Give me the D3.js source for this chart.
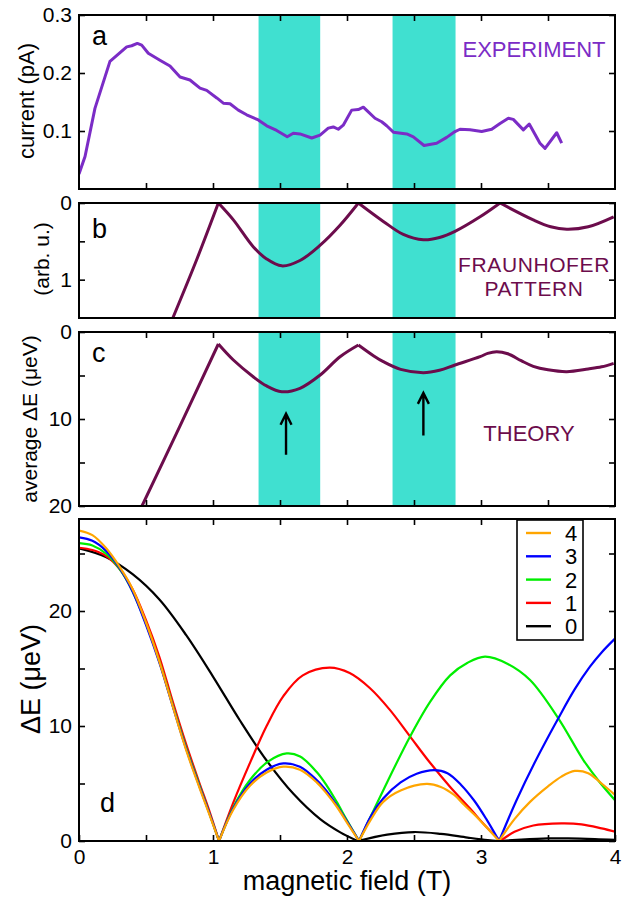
<!DOCTYPE html>
<html><head><meta charset="utf-8">
<script src="https://cdn.jsdelivr.net/npm/d3@7"></script>
<style>body{margin:0;background:#fff}svg{display:block;font-family:"Liberation Sans",Arial,sans-serif}</style>
</head><body>
<script>
// ---------- data ----------
const bands = [[1.34, 1.80], [2.34, 2.81]];

// panel a: experiment
const expField = [0.000,0.045,0.119,0.231,0.356,0.393,0.435,0.468,0.517,0.604,0.679,0.754,0.828,0.903,0.953,1.028,1.077,1.127,1.189,1.251,1.338,1.401,1.475,1.554,1.599,1.649,1.737,1.799,1.860,1.898,1.935,1.972,2.035,2.084,2.122,2.159,2.209,2.259,2.296,2.346,2.446,2.495,2.575,2.669,2.744,2.806,2.843,2.918,3.005,3.080,3.142,3.204,3.241,3.316,3.360,3.440,3.478,3.565,3.602];
const expCurrent = [0.026,0.056,0.139,0.220,0.245,0.247,0.251,0.248,0.234,0.222,0.212,0.193,0.188,0.174,0.170,0.157,0.148,0.147,0.136,0.128,0.119,0.109,0.101,0.090,0.096,0.095,0.088,0.093,0.105,0.107,0.103,0.110,0.136,0.137,0.141,0.133,0.122,0.116,0.109,0.098,0.095,0.090,0.075,0.079,0.089,0.099,0.103,0.102,0.099,0.103,0.113,0.122,0.120,0.102,0.112,0.079,0.070,0.097,0.079];

// panel b: Fraunhofer pattern (inverted axis)
const fraunField = [0.70,0.878,1.04,1.152,1.30,1.40,1.513,1.649,1.80,1.948,2.085,2.271,2.42,2.57,2.69,2.806,2.993,3.142,3.39,3.52,3.64,3.80,3.99];
const fraunValue = [1.50,0.74,0,0.22,0.57,0.73,0.82,0.75,0.55,0.29,0,0.24,0.41,0.48,0.45,0.37,0.18,0,0.22,0.31,0.342,0.31,0.18];

// panel c: theory average dE
const theoryField = [0.47,0.754,1.04,1.152,1.30,1.40,1.513,1.649,1.80,1.948,2.085,2.20,2.271,2.40,2.57,2.69,2.806,2.993,3.05,3.117,3.20,3.30,3.39,3.50,3.64,3.80,3.90,3.99];
const theoryDE = [20.0,10.8,1.38,3.22,5.14,6.2,6.86,6.47,4.94,2.84,1.49,2.75,3.41,4.3,4.67,4.4,3.79,2.84,2.45,2.26,2.5,3.3,3.95,4.35,4.56,4.25,4.0,3.6];
const theoryCusps = [1.04, 2.085];
const arrowField = [1.545, 2.57];
const arrowFrom = [14.1, 11.9];
const arrowTo = [9.4, 7.0];

// panel d: dE for n = 0..4
const d0Field = [0,0.2,0.4,0.6,0.8,1.0,1.2,1.4,1.6,1.8,1.95,2.08,2.3,2.5,2.7,2.9,3.05,3.13,3.3,3.5,3.65,3.85,4.0];
const d0DE =    [25.45,24.7,23.2,21.0,17.9,14.3,10.5,7.0,4.1,1.9,0.75,0,0.55,0.78,0.62,0.3,0.08,0,0.12,0.22,0.23,0.17,0.09];
const d1Field = [0,0.1,0.2,0.3,0.4,0.5,0.6,0.7,0.8,0.9,0.97,1.045,1.15,1.28,1.4,1.525,1.67,1.87,2.02,2.17,2.32,2.47,2.62,2.77,2.92,3.03,3.145,3.25,3.39,3.6,3.75,3.9,4.0];
const d1DE =    [25.5,25.3,24.8,23.7,21.9,19.2,16.0,12.1,8.4,5.0,2.7,0,3.3,6.9,10.0,12.6,14.4,15.07,14.6,13.3,11.4,9.1,6.8,4.7,2.8,1.35,0,0.8,1.35,1.53,1.45,1.1,0.81];
const d2Field = [0,0.1,0.2,0.3,0.4,0.5,0.6,0.7,0.8,0.9,0.97,1.045,1.15,1.276,1.41,1.55,1.65,1.774,1.85,1.923,2.0,2.09,2.27,2.47,2.62,2.77,2.9,3.03,3.2,3.366,3.577,3.764,3.88,4.0];
const d2DE =    [25.9,25.7,25.0,23.7,21.7,18.9,15.6,11.8,8.1,4.8,2.5,0,2.9,5.3,6.9,7.62,7.35,6.0,4.8,3.4,1.8,0,4.4,9.07,12.1,14.4,15.5,16.03,15.4,14.0,10.67,7.04,5.2,3.55];
const d3Field = [0,0.1,0.2,0.3,0.4,0.5,0.6,0.7,0.8,0.9,0.97,1.045,1.15,1.276,1.4,1.525,1.649,1.774,1.85,1.923,2.0,2.09,2.18,2.27,2.4,2.52,2.65,2.75,2.85,2.95,3.04,3.135,3.266,3.4,3.577,3.7,3.813,3.9,4.0];
const d3DE =    [26.4,26.1,25.25,23.8,21.7,18.8,15.5,11.7,8.0,4.7,2.5,0,2.8,5.0,6.2,6.75,6.46,5.3,4.3,3.1,1.7,0,2.2,3.7,5.1,5.85,6.17,5.9,4.9,3.5,1.9,0,3.56,6.8,10.67,13.2,15.16,16.4,17.6];
const d4Field = [0,0.1,0.2,0.3,0.4,0.5,0.6,0.7,0.8,0.9,0.97,1.045,1.15,1.276,1.4,1.525,1.649,1.774,1.85,1.923,2.0,2.09,2.18,2.27,2.4,2.595,2.7,2.8,2.87,2.95,3.02,3.135,3.25,3.366,3.5,3.6,3.7,3.8,3.9,4.0];
const d4DE =    [27.0,26.6,25.5,23.9,21.9,19.0,15.6,11.7,7.9,4.6,2.4,0,2.7,4.8,5.95,6.46,6.2,5.1,4.1,3.0,1.6,0,1.9,3.4,4.4,4.96,4.7,4.0,3.2,2.3,1.45,0,1.9,3.4,4.75,5.6,6.09,5.9,5.0,4.0];
const seriesNames = ["0","1","2","3","4"];
const seriesColors = ["#000000","#ff0000","#00ee00","#0000ff","#ffa500"];
const legendOrder = ["4","3","2","1","0"];
const xTickLabels = ["0","1","2","3","4"];

// ---------- drawing ----------
const W = 633, H = 901;
const svg = d3.select("body").append("svg").attr("width", W).attr("height", H);
const x = d3.scaleLinear().domain([0, 4]).range([79, 615]);
const X0 = 79, X1 = 615;
const PURPLE = "#7b2cc6", MAROON = "#6c0c4c", TURQ = "#40e0d0";

const yA = d3.scaleLinear().domain([0, 0.3]).range([189, 15]);
const yB = d3.scaleLinear().domain([0, 1.5]).range([203, 318]);
const yC = d3.scaleLinear().domain([0, 20]).range([332, 506]);
const yD = d3.scaleLinear().domain([0, 28]).range([841, 519]);

function clip(id, y) {
  const [b, t] = [d3.max(y.range()), d3.min(y.range())];
  svg.append("clipPath").attr("id", id).append("rect")
    .attr("x", X0).attr("y", t).attr("width", X1 - X0).attr("height", b - t);
  return `url(#${id})`;
}
function shade(y, cp) {
  const [b, t] = [d3.max(y.range()), d3.min(y.range())];
  svg.append("g").attr("clip-path", cp).selectAll("rect").data(bands).join("rect")
    .attr("x", d => x(d[0])).attr("width", d => x(d[1]) - x(d[0]))
    .attr("y", t).attr("height", b - t).attr("fill", TURQ);
}
function splitSegments(pts, isBreak) {
  const segs = []; let cur = [];
  pts.forEach((p, i) => {
    cur.push(p);
    if (isBreak(p) && i > 0 && i < pts.length - 1) { segs.push(cur); cur = [p]; }
  });
  if (cur.length > 1) segs.push(cur);
  return segs;
}
function frameAndAxes(y, opt) {
  const [b, t] = [d3.max(y.range()), d3.min(y.range())];
  const fs = "21px";
  const gl = svg.append("g").attr("transform", `translate(${X0},0)`)
    .call(d3.axisLeft(y).tickValues(opt.yTicks).tickSize(-6).tickPadding(7)
      .tickFormat((d, i) => opt.yLabels[i]));
  const gr = svg.append("g").attr("transform", `translate(${X1},0)`)
    .call(d3.axisRight(y).tickValues(opt.yTicks).tickSize(-6).tickFormat(""));
  const gs = [gl, gr];
  if (opt.xTicks) {
    const minor = [0.5,1,1.5,2,2.5,3,3.5];
    gs.push(svg.append("g").attr("transform", `translate(0,${t})`)
      .call(d3.axisTop(x).tickValues(minor).tickSize(-6).tickFormat("")));
    if (opt.xLabels) {
      gs.push(svg.append("g").attr("transform", `translate(0,${b})`)
        .call(d3.axisBottom(x).tickValues([0,0.5,1,1.5,2,2.5,3,3.5,4]).tickSize(-6).tickPadding(8)
          .tickFormat(d => Number.isInteger(d) ? xTickLabels[d] : "")));
    } else {
      gs.push(svg.append("g").attr("transform", `translate(0,${b})`)
        .call(d3.axisBottom(x).tickValues(minor).tickSize(-6).tickFormat("")));
    }
  }
  gs.forEach(g => {
    g.select(".domain").remove();
    g.selectAll(".tick line").attr("stroke", "#000").attr("stroke-width", 1.6);
    g.selectAll("text").attr("font-size", fs).attr("font-family", "Liberation Sans, Arial, sans-serif").attr("fill", "#000");
  });
  svg.append("rect").attr("x", X0).attr("y", t).attr("width", X1 - X0).attr("height", b - t)
    .attr("fill", "none").attr("stroke", "#000").attr("stroke-width", 2);
}
function label(txt, px, py, size, color, anchor, rotate) {
  const t = svg.append("text").text(txt).attr("font-size", size).attr("fill", color || "#000")
    .attr("text-anchor", anchor || "start");
  if (rotate) t.attr("transform", `translate(${px},${py}) rotate(-90)`);
  else t.attr("x", px).attr("y", py);
  return t;
}
const smooth = d3.line().x(d => x(d[0])).y(d => d[1]).curve(d3.curveCatmullRom.alpha(0.5));

// ---- panel a ----
const cpA = clip("cA", yA);
shade(yA, cpA);
svg.append("path").attr("clip-path", cpA)
  .datum(d3.zip(expField, expCurrent))
  .attr("d", d3.line().x(d => x(d[0])).y(d => yA(d[1])))
  .attr("fill", "none").attr("stroke", PURPLE).attr("stroke-width", 3).attr("stroke-linejoin", "round");
frameAndAxes(yA, {yTicks: [0.1, 0.2, 0.3], yLabels: ["0.1", "0.2", "0.3"], xTicks: true});
label("a", 92, 45, "27px");
label("EXPERIMENT", 534, 57, "22px", PURPLE, "middle");
label("current (pA)", 34, 101, "22px", "#000", "middle", true);

// ---- panel b ----
const cpB = clip("cB", yB);
shade(yB, cpB);
splitSegments(d3.zip(fraunField, fraunValue), p => p[1] === 0).forEach(seg => {
  svg.append("path").attr("clip-path", cpB)
    .attr("d", smooth(seg.map(p => [p[0], yB(p[1])])))
    .attr("fill", "none").attr("stroke", MAROON).attr("stroke-width", 3).attr("stroke-linejoin", "round");
});
frameAndAxes(yB, {yTicks: [0, 0.5, 1], yLabels: ["0", "", "1"], xTicks: false});
label("b", 92, 238, "27px");
label("FRAUNHOFER", 534, 272, "21px", MAROON, "middle").attr("letter-spacing", "0.6px");
label("PATTERN", 534, 296, "21px", MAROON, "middle").attr("letter-spacing", "0.6px");
label("(arb. u.)", 49, 259, "21px", "#000", "middle", true);

// ---- panel c ----
const cpC = clip("cC", yC);
shade(yC, cpC);
splitSegments(d3.zip(theoryField, theoryDE), p => theoryCusps.includes(p[0])).forEach(seg => {
  svg.append("path").attr("clip-path", cpC)
    .attr("d", smooth(seg.map(p => [p[0], yC(p[1])])))
    .attr("fill", "none").attr("stroke", MAROON).attr("stroke-width", 3).attr("stroke-linejoin", "round");
});
arrowField.forEach((f, i) => {
  const ax = x(f), y0 = yC(arrowFrom[i]), y1 = yC(arrowTo[i]);
  svg.append("path").attr("d", `M${ax},${y0}L${ax},${y1}M${ax - 5.5},${y1 + 11}L${ax},${y1}L${ax + 5.5},${y1 + 11}`)
    .attr("fill", "none").attr("stroke", "#000").attr("stroke-width", 2.4);
});
frameAndAxes(yC, {yTicks: [0, 5, 10, 15, 20], yLabels: ["0", "", "10", "", "20"], xTicks: true});
label("c", 92, 362, "27px");
label("THEORY", 529, 441, "22px", MAROON, "middle");
label("average \u0394E (\u03bceV)", 37, 419, "21px", "#000", "middle", true);

// ---- panel d ----
const cpD = clip("cD", yD);
const dFields = [d0Field, d1Field, d2Field, d3Field, d4Field];
const dValues = [d0DE, d1DE, d2DE, d3DE, d4DE];
seriesNames.forEach((n, k) => {
  splitSegments(d3.zip(dFields[k], dValues[k]), p => p[1] === 0).forEach(seg => {
    svg.append("path").attr("clip-path", cpD)
      .attr("d", smooth(seg.map(p => [p[0], yD(p[1])])))
      .attr("fill", "none").attr("stroke", seriesColors[k]).attr("stroke-width", 2.2).attr("stroke-linejoin", "round");
  });
});
frameAndAxes(yD, {yTicks: [0, 5, 10, 15, 20, 25], yLabels: ["0", "", "10", "", "20", ""], xTicks: true, xLabels: true});
label("d", 100, 812, "27px");
label("\u0394E (\u03bceV)", 40, 679, "27px", "#000", "middle", true);
label("magnetic field (T)", 347, 890, "27px", "#000", "middle");

// legend
const lg = svg.append("g");
lg.append("rect").attr("x", 517).attr("y", 520).attr("width", 66).attr("height", 120)
  .attr("fill", "#fff").attr("stroke", "#000").attr("stroke-width", 1.6);
legendOrder.forEach((n, i) => {
  const k = seriesNames.indexOf(n);
  const yy = 533 + i * 23.3;
  lg.append("line").attr("x1", 526).attr("x2", 551).attr("y1", yy).attr("y2", yy)
    .attr("stroke", seriesColors[k]).attr("stroke-width", 2.4);
  lg.append("text").text(n).attr("x", 565).attr("y", yy).attr("dy", "0.36em")
    .attr("font-size", "22px").attr("fill", "#000");
});
</script>
</body></html>
